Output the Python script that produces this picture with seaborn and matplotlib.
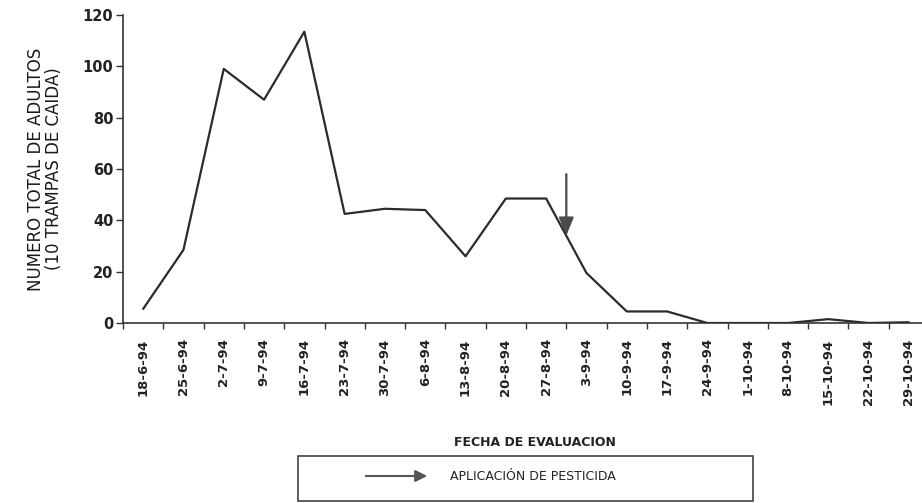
import numpy as np
import matplotlib
matplotlib.use("Agg")
import matplotlib.pyplot as plt
from matplotlib.patches import Rectangle
import seaborn as sns

# fechas de evaluacion (categorias del eje x)
fechas = ["18-6-94", "25-6-94", "2-7-94", "9-7-94", "16-7-94", "23-7-94",
          "30-7-94", "6-8-94", "13-8-94", "20-8-94", "27-8-94", "3-9-94",
          "10-9-94", "17-9-94", "24-9-94", "1-10-94", "8-10-94", "15-10-94",
          "22-10-94", "29-10-94"]
# numero total de adultos (10 trampas de caida)
adultos = [5.5, 28.5, 99, 87, 113.5, 42.5, 44.5, 44, 26, 48.5, 48.5, 19.5,
           4.5, 4.5, 0, 0, 0, 1.5, 0, 0.3]
# aplicacion de pesticida: entre 27-8-94 y 3-9-94
pesticida_x = 10.5
pesticida_y = (58, 34)

y_ticks = [0, 20, 40, 60, 80, 100, 120]

sns.set_style("ticks")
plt.rcParams['font.family'] = ['DejaVu Sans']

W, H = 922, 503
fig = plt.figure(figsize=(W / 100, H / 100), dpi=100)
ax = fig.add_axes([123 / W, 180 / H, (929 - 123) / W, 308 / H])

pos = np.arange(len(fechas))
sns.lineplot(x=pos, y=adultos, ax=ax, color='#2b2b2b', linewidth=1.6)

# flecha de aplicacion de pesticida
ax.annotate("", xy=(pesticida_x, pesticida_y[1]), xytext=(pesticida_x, pesticida_y[0]),
            arrowprops=dict(arrowstyle="-|>,head_length=1.1,head_width=0.45",
                            color='#4a4a4a', lw=1.6, shrinkA=0, shrinkB=0))

ax.set_xlim(-0.5, len(fechas) - 0.5)
ax.set_ylim(0, 120)
ax.set_yticks(y_ticks)
ax.set_yticklabels([str(t) for t in y_ticks], fontweight='bold')
ax.set_xticks(pos)
ax.set_xticklabels(fechas, rotation=90, fontsize=9.5, fontweight='bold', color='#222222')
ax.set_xticks(np.arange(-0.5, len(fechas)), minor=True)
ax.tick_params(axis='x', which='major', length=0, pad=11)
ax.tick_params(axis='x', which='minor', length=4, width=1.0, color='#333333')
ax.tick_params(axis='y', length=5, width=1.0, pad=2, labelsize=10.5,
               color='#333333', labelcolor='#222222')
for side in ['top', 'right']:
    ax.spines[side].set_visible(False)
for side in ['left', 'bottom']:
    ax.spines[side].set_color('#333333')
    ax.spines[side].set_linewidth(1.2)
ax.set_xlabel("")
ax.set_ylabel("")

# titulo del eje y (dos lineas)
fig.text(45 / W, 1 - 169 / H, "NUMERO TOTAL DE ADULTOS\n(10 TRAMPAS DE CAIDA)",
         rotation=90, ha='center', va='center', multialignment='center',
         fontsize=12, color='#1a1a1a', linespacing=1.05)

# titulo del eje x
fig.text(535 / W, 1 - 442 / H, "FECHA DE EVALUACION", ha='center', va='center',
         fontsize=9, fontweight='bold', color='#222222')

# cuadro de leyenda
fig.patches.append(Rectangle((298 / W, 1 - 501 / H), (753 - 298) / W, 45 / H,
                             transform=fig.transFigure, fill=False,
                             edgecolor='#333333', linewidth=1.1))
fig.add_artist(matplotlib.patches.FancyArrowPatch(
    (363 / W, 1 - 476 / H), (430 / W, 1 - 476 / H), transform=fig.transFigure,
    arrowstyle="-|>,head_length=7,head_width=3.5", color='#555555', lw=1.5))
fig.text(450 / W, 1 - 476 / H, "APLICACIÓN DE PESTICIDA", ha='left', va='center',
         fontsize=9, color='#222222')

fig.savefig("out.png", dpi=100)
